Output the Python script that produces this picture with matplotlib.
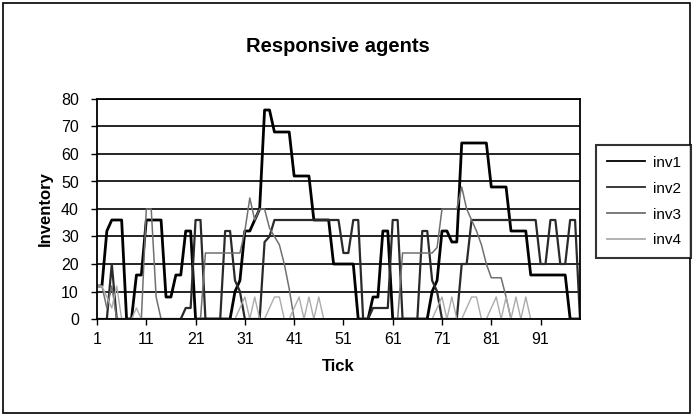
import matplotlib
matplotlib.use('Agg')
import matplotlib.pyplot as plt
from matplotlib.patches import Rectangle

plt.rcParams['font.family'] = ['Liberation Sans', 'DejaVu Sans']

# Datos (ticks 1..99)
ticks = list(range(1, 100))

inv1 = [12, 12, 32, 36, 36, 36, 0, 0, 16, 16,
        36, 36, 36, 36, 8, 8, 16, 16, 32, 32,
        0, 0, 0, 0, 0, 0, 0, 0, 10, 14,
        32, 32, 36, 40, 76, 76, 68, 68, 68, 68,
        52, 52, 52, 52, 36, 36, 36, 36, 20, 20,
        20, 20, 20, 0, 0, 0, 8, 8, 32, 32,
        0, 0, 0, 0, 0, 0, 0, 0, 10, 14,
        32, 32, 28, 28, 64, 64, 64, 64, 64, 64,
        48, 48, 48, 48, 32, 32, 32, 32, 16, 16,
        16, 16, 16, 16, 16, 16, 0, 0, 0]

inv2 = [0, 0, 0, 20, 0, 0, 0, 0, 0, 0,
        0, 0, 0, 0, 0, 0, 0, 0, 4, 4,
        36, 36, 0, 0, 0, 0, 32, 32, 14, 10,
        0, 0, 0, 0, 28, 30, 36, 36, 36, 36,
        36, 36, 36, 36, 36, 36, 36, 36, 36, 36,
        24, 24, 36, 36, 0, 0, 4, 4, 4, 4,
        36, 36, 0, 0, 0, 0, 32, 32, 14, 10,
        0, 0, 0, 0, 20, 20, 36, 36, 36, 36,
        36, 36, 36, 36, 36, 36, 36, 36, 36, 36,
        20, 20, 36, 36, 20, 20, 36, 36, 0]

inv3 = [12, 12, 4, 12, 0, 0, 0, 0, 0, 0,
        40, 40, 8, 0, 0, 0, 0, 0, 0, 0,
        0, 0, 24, 24, 24, 24, 24, 24, 24, 24,
        32, 44, 36, 40, 40, 33, 30, 27, 20, 11,
        0, 0, 0, 0, 0, 0, 0, 0, 0, 0,
        0, 0, 0, 0, 0, 0, 0, 0, 0, 0,
        0, 0, 24, 24, 24, 24, 24, 24, 24, 26,
        40, 40, 40, 40, 48, 40, 36, 32, 27, 20,
        15, 15, 15, 8, 0, 0, 0, 0, 0, 0,
        0, 0, 0, 0, 0, 0, 0, 0, 0]

inv4 = [12, 12, 8, 4, 12, 0, 0, 0, 4, 0,
        0, 0, 0, 0, 0, 0, 0, 0, 0, 0,
        0, 0, 0, 0, 0, 0, 0, 0, 0, 4,
        8, 0, 8, 0, 0, 4, 8, 8, 0, 0,
        4, 8, 0, 8, 0, 8, 0, 0, 0, 0,
        0, 0, 0, 0, 0, 0, 0, 0, 0, 0,
        0, 0, 0, 0, 0, 0, 0, 0, 0, 4,
        8, 0, 8, 0, 0, 4, 8, 8, 0, 0,
        4, 8, 0, 8, 0, 8, 0, 8, 0, 0,
        0, 0, 0, 0, 0, 0, 0, 0, 0]

series = [('inv1', inv1, '#000000', 2.0),
          ('inv2', inv2, '#2a2a2a', 1.6),
          ('inv3', inv3, '#707070', 1.1),
          ('inv4', inv4, '#ababab', 1.0)]

xtick_pos = [1, 11, 21, 31, 41, 51, 61, 71, 81, 91]

fig = plt.figure(figsize=(6.93, 4.19), dpi=100)
ax = fig.add_axes([97 / 693, 100 / 419, 483 / 693, 220 / 419])

for nombre, datos, color, lw in series:
    ax.plot(ticks, datos, color=color, lw=lw, label=nombre)

ax.set_xlim(1, 99)
ax.set_ylim(0, 80)
ax.set_yticks(range(0, 81, 10))
ax.set_xticks(xtick_pos)
ax.yaxis.grid(True, color='black', lw=1.2)
ax.set_axisbelow(True)
for s in ax.spines.values():
    s.set_color('black')
    s.set_linewidth(1.3)
ax.tick_params(axis='both', labelsize=11.5, color='black', length=4, width=1)
ax.tick_params(axis='y', pad=9)
ax.tick_params(axis='x', pad=5)
ax.set_ylabel('Inventory', fontsize=12, fontweight='bold', labelpad=6)
ax.set_xlabel('Tick', fontsize=12, fontweight='bold', labelpad=9)

fig.text(338 / 693, 1 - 46 / 419, 'Responsive agents', ha='center', va='center',
         fontsize=14.5, fontweight='bold')

leg = fig.legend(loc='upper left', bbox_to_anchor=(596 / 693, 1 - 145 / 419),
                 fontsize=11, frameon=True, fancybox=False, handlelength=2.5,
                 labelspacing=0.78, borderpad=0.7, handletextpad=0.5,
                 borderaxespad=0)
leg.get_frame().set_edgecolor('black')
leg.get_frame().set_linewidth(1.5)
for h in leg.get_lines():
    h.set_linewidth(1.3)

# borde exterior
fig.patches.append(Rectangle((3 / 693, 6 / 419), 687 / 693, 410 / 419,
                             transform=fig.transFigure, fill=False,
                             edgecolor='black', lw=1.2))

fig.savefig('out.png', dpi=100)
